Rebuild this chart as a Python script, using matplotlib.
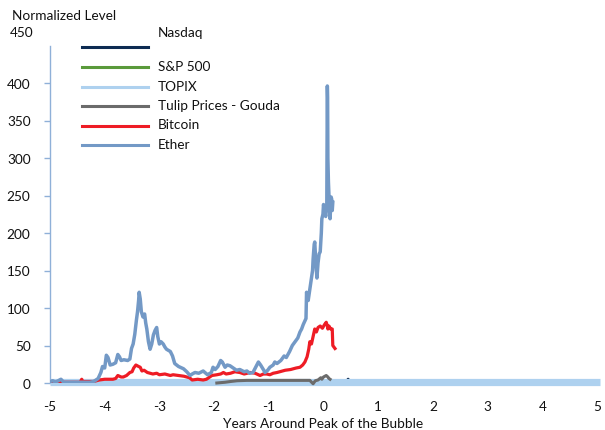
import matplotlib
matplotlib.use("Agg")
import matplotlib.pyplot as plt
from matplotlib.lines import Line2D

plt.rcParams['font.family'] = ['Lato', 'DejaVu Sans']

# ---- data ----
ether_years = [-5.00, -4.95, -4.90, -4.80, -4.75, -4.60, -4.40, -4.27, -4.20, -4.12, -4.07, -4.04, -4.00,
               -3.97, -3.94, -3.90, -3.85, -3.80, -3.76, -3.73, -3.70, -3.65, -3.58, -3.54, -3.51, -3.48,
               -3.45, -3.42, -3.40, -3.38, -3.37, -3.35, -3.33, -3.30, -3.27, -3.25, -3.23, -3.20, -3.17,
               -3.14, -3.11, -3.08, -3.05, -3.03, -3.00, -2.97, -2.93, -2.90, -2.87, -2.80, -2.76, -2.72,
               -2.65, -2.56, -2.50, -2.44, -2.40, -2.35, -2.28, -2.20, -2.12, -2.05, -2.02, -1.98, -1.93,
               -1.88, -1.85, -1.80, -1.76, -1.71, -1.65, -1.59, -1.53, -1.45, -1.40, -1.35, -1.29, -1.24,
               -1.19, -1.15, -1.10, -1.07, -1.02, -0.98, -0.92, -0.89, -0.85, -0.78, -0.72, -0.68, -0.62,
               -0.57, -0.52, -0.47, -0.43, -0.40, -0.37, -0.34, -0.32, -0.31, -0.28, -0.25, -0.22, -0.20,
               -0.19, -0.17, -0.16, -0.14, -0.12, -0.10, -0.08, -0.06, -0.04, -0.03, -0.01, 0.00, 0.02,
               0.04, 0.05, 0.06, 0.07, 0.075, 0.08, 0.09, 0.10, 0.11, 0.12, 0.13, 0.14, 0.15, 0.16, 0.17]
ether_values = [2, 3, 1, 5, 1, 1, 1, 1, 2, 6, 14, 22, 20,
                37, 34, 24, 25, 27, 38, 35, 30, 31, 30, 32, 46, 52,
                65, 84, 95, 110, 121, 112, 95, 88, 92, 80, 72, 55, 45,
                52, 64, 70, 74, 62, 52, 55, 52, 48, 45, 42, 36, 26,
                22, 19, 15, 10, 12, 14, 13, 16, 11, 14, 21, 18, 22,
                30, 28, 21, 24, 23, 20, 17, 18, 15, 16, 13, 14, 21,
                28, 24, 18, 14, 17, 21, 24, 28, 26, 30, 36, 34, 42,
                50, 55, 60, 68, 72, 78, 83, 86, 121, 110, 125, 140, 150,
                165, 185, 188, 160, 140, 160, 172, 175, 200, 219, 225, 238, 230,
                222, 228, 235, 396, 380, 300, 268, 250, 232, 219, 235, 248, 245, 230, 241]

bitcoin_years = [-5.00, -4.70, -4.45, -4.42, -4.40, -4.20, -4.10, -4.00, -3.85, -3.80, -3.76, -3.70, -3.66,
                 -3.60, -3.54, -3.50, -3.47, -3.43, -3.38, -3.35, -3.32, -3.28, -3.22, -3.17, -3.12, -3.05,
                 -3.00, -2.90, -2.80, -2.75, -2.65, -2.55, -2.50, -2.45, -2.40, -2.30, -2.20, -2.14, -2.08,
                 -2.04, -1.95, -1.88, -1.83, -1.78, -1.70, -1.62, -1.53, -1.45, -1.34, -1.25, -1.16, -1.10,
                 -1.04, -0.98, -0.92, -0.85, -0.80, -0.70, -0.60, -0.50, -0.43, -0.38, -0.34, -0.30, -0.27,
                 -0.25, -0.22, -0.19, -0.16, -0.13, -0.10, -0.06, -0.02, 0.02, 0.05, 0.07, 0.08, 0.10,
                 0.13, 0.16, 0.17, 0.21]
bitcoin_values = [1, 1, 1, 5, 2, 2, 4, 5, 5, 6, 10, 8, 8,
                  10, 14, 15, 20, 24, 22, 21, 16, 17, 14, 13, 12, 13,
                  11, 12, 10, 11, 10, 9, 8, 7, 4, 5, 4, 5, 8,
                  10, 11, 12, 14, 12, 13, 15, 14, 12, 14, 13, 10, 12,
                  12, 11, 13, 14, 15, 17, 18, 20, 21, 24, 28, 35, 45,
                  55, 52, 62, 72, 68, 74, 76, 73, 78, 81, 76, 72, 76,
                  72, 72, 50, 46]

tulip_years = [-1.95, -1.80, -1.70, -1.58, -1.40, -1.00, -0.60, -0.25, -0.19, -0.15, -0.10, -0.05, -0.03,
               0.00, 0.05, 0.08, 0.10, 0.12]
tulip_values = [0, 1, 2, 3, 3.5, 3.5, 3.5, 3.5, -1, 3, 4, 7, 5, 8, 10, 8, 6, 5]

topix_years = [-5.00, -2.50, 0.00, 2.50, 5.05]
topix_values = [1, 1, 1, 1, 1]

sp500_years = [-5.00, -2.50, 0.00, 2.50, 5.00]
sp500_values = [1, 1, 1, 1, 1]

nasdaq_years = [-5.00, 0.00, 0.08, 0.10, 0.12, 0.43, 0.45, 0.47, 5.00]
nasdaq_values = [1, 1, 1, 5, 1, 1, 5, 1, 1]

series_labels = ['Nasdaq', 'S&P 500', 'TOPIX', 'Tulip Prices - Gouda', 'Bitcoin', 'Ether']
series_colors = ['#0d2b52', '#5a9a3b', '#aed1ef', '#6b6b6b', '#ee1c25', '#7399c6']

x_ticks = [-5, -4, -3, -2, -1, 0, 1, 2, 3, 4, 5]
y_ticks = [0, 50, 100, 150, 200, 250, 300, 350, 400]

# ---- figure ----
fig = plt.figure(figsize=(6.05, 4.31), dpi=100)
W, H = 605, 431
ax = fig.add_axes([50 / W, (H - 384) / H, (597 - 50) / W, (384 - 46.5) / H])

ax.plot(nasdaq_years, nasdaq_values, color=series_colors[0], lw=2.2, zorder=2)
ax.plot(sp500_years, sp500_values, color=series_colors[1], lw=2.2, zorder=2)
ax.plot(topix_years, topix_values, color=series_colors[2], lw=5.2, solid_capstyle='butt',
        clip_on=False, zorder=3)
ax.plot(tulip_years, tulip_values, color=series_colors[3], lw=2.2, zorder=4, clip_on=False)
ax.plot(bitcoin_years, bitcoin_values, color=series_colors[4], lw=2.3, zorder=5)
ax.plot(ether_years, ether_values, color=series_colors[5], lw=2.5, zorder=6)

ax.set_xlim(-5, 5)
ax.set_ylim(0, 450)
ax.set_xticks(x_ticks)
ax.set_xticklabels([str(t) for t in x_ticks])
ax.set_yticks(y_ticks)
ax.set_yticklabels([str(t) for t in y_ticks])

FS = 9.8
for s in ['top', 'right', 'bottom']:
    ax.spines[s].set_visible(False)
ax.spines['left'].set_color('#8fb0d8')
ax.spines['left'].set_linewidth(1.0)
ax.tick_params(axis='y', length=4, width=1.0, color='#8fb0d8', pad=10, labelsize=FS, labelcolor='#111111')
ax.tick_params(axis='x', length=0, pad=12, labelsize=FS, labelcolor='#111111')
ax.set_xlabel('Years Around Peak of the Bubble', fontsize=FS, labelpad=4, color='#111111')

fig.text(12 / W, 1 - 16 / H, 'Normalized Level', fontsize=FS, va='center', ha='left', color='#111111')
fig.text(33 / W, 1 - 33 / H, '450', fontsize=FS, va='center', ha='right', color='#111111')

# legend (manual)
line_y = [48, 68, 88, 107, 127, 146]
text_y = [33, 67, 87, 106, 125, 145]
for lab, col, ly, ty in zip(series_labels, series_colors, line_y, text_y):
    fig.add_artist(Line2D([82 / W, 148 / W], [1 - ly / H, 1 - ly / H], color=col, lw=2.2,
                          transform=fig.transFigure))
    fig.text(158 / W, 1 - ty / H, lab, fontsize=FS, va='center', ha='left', color='#111111')

fig.savefig('out.png', dpi=100)
